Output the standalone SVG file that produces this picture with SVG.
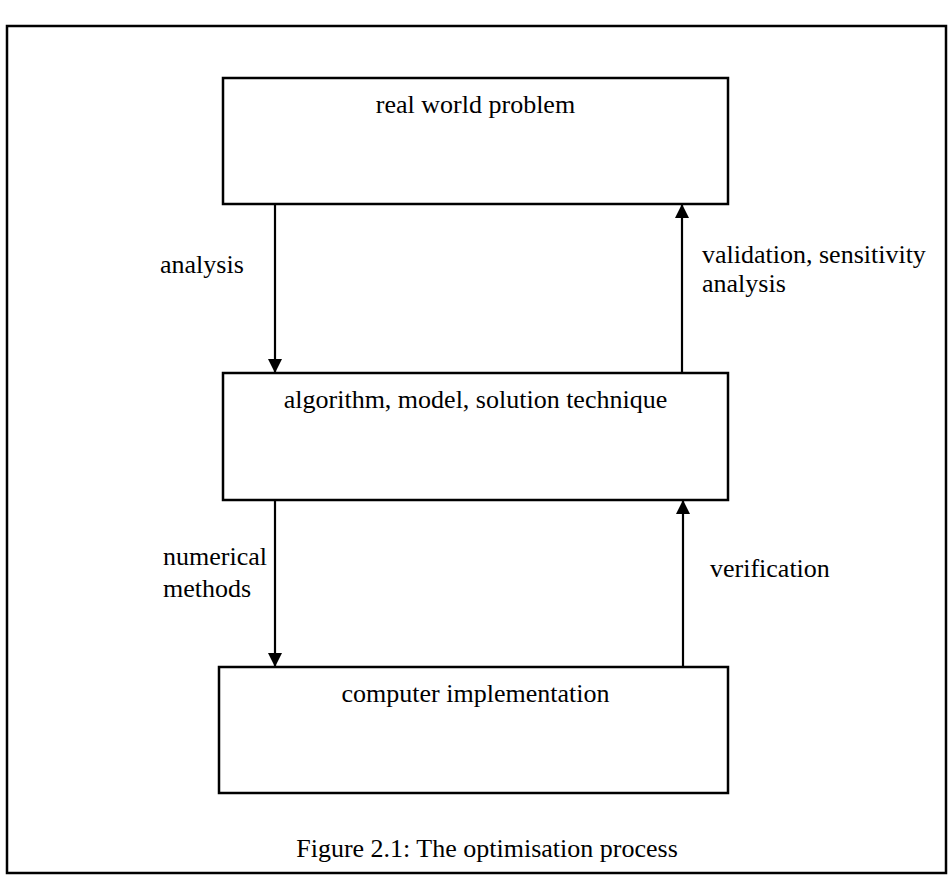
<svg xmlns="http://www.w3.org/2000/svg" width="951" height="878" viewBox="0 0 951 878">
<style>
.box{fill:#fff;stroke:#000;stroke-width:2.5}
.t{font-family:"Liberation Serif","Times New Roman",serif;font-size:26px;fill:#000}
.c{text-anchor:middle}
.ln{stroke:#000;stroke-width:2.2;fill:none}
</style>
<defs>
<marker id="ah" viewBox="0 0 14 14" refX="14" refY="7" markerWidth="14" markerHeight="14" markerUnits="userSpaceOnUse" orient="auto">
<path d="M0,0 L14,7 L0,14 Z" fill="#000"/>
</marker>
</defs>
<rect id="frame" x="7" y="26" width="939" height="847" fill="none" stroke="#000" stroke-width="2.5"/>
<g id="n1"><rect class="box" x="223" y="78" width="505" height="126"/><text class="t c" x="475.5" y="113">real world problem</text></g>
<g id="n2"><rect class="box" x="223" y="373" width="505" height="127"/><text class="t c" x="475.5" y="408">algorithm, model, solution technique</text></g>
<g id="n3"><rect class="box" x="219" y="667" width="509" height="126"/><text class="t c" x="475.5" y="702">computer implementation</text></g>
<g id="connectors">
<line class="ln" x1="275" y1="204" x2="275" y2="373" marker-end="url(#ah)"/>
<line class="ln" x1="682" y1="373" x2="682" y2="204" marker-end="url(#ah)"/>
<line class="ln" x1="275" y1="500" x2="275" y2="667" marker-end="url(#ah)"/>
<line class="ln" x1="683" y1="667" x2="683" y2="500" marker-end="url(#ah)"/>
</g>
<g id="labels">
<text class="t" x="160" y="273">analysis</text>
<text class="t" x="702" y="263">validation, sensitivity</text>
<text class="t" x="702" y="292">analysis</text>
<text class="t" x="163" y="565">numerical</text>
<text class="t" x="163" y="597">methods</text>
<text class="t" x="710" y="577">verification</text>
</g>
<text id="caption" class="t c" x="487" y="857">Figure 2.1: The optimisation process</text>
</svg>
